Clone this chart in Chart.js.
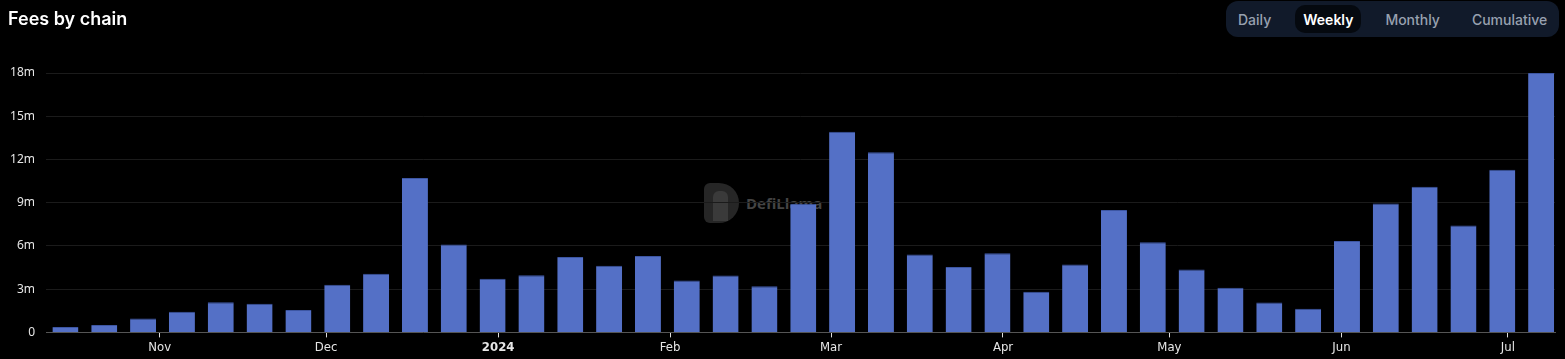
<!DOCTYPE html>
<html>
<head>
<meta charset="utf-8">
<script src="https://cdn.jsdelivr.net/npm/chart.js@4.4.1/dist/chart.umd.min.js"></script>
<style>
  body { margin: 0; background: #000; width: 1565px; height: 359px; overflow: hidden; position: relative; font-family: Inter, "Noto Sans", sans-serif; }
  #chart { position: absolute; left: 0; top: 0; z-index: 1; }
  .title { position: absolute; left: 8px; top: 8px; color: #fff; font-size: 18px; font-weight: 600; z-index: 2; }
  .toggle { position: absolute; left: 1226px; top: 1px; height: 36px; box-sizing: border-box; padding: 4px; display: flex; gap: 16px; background: #111a2a; border-radius: 12px; z-index: 2; }
  .toggle span { display: flex; align-items: center; height: 28px; padding: 0 8px; font-size: 14px; font-weight: 500; color: #98a1b0; border-radius: 10px; }
  .toggle span.on { background: #05090f; color: #fff; font-weight: 600; }
  .mark { position: absolute; left: 704px; top: 183px; z-index: 0; display: flex; align-items: center; gap: 7px; }
  .logo { width: 35px; height: 40px; background: #262626; border-radius: 6px 20px 20px 6px; position: relative; }
  .logo i { position: absolute; left: 9px; top: 8px; width: 15px; height: 30px; background: #3a3a3a; border-radius: 6px 6px 0 0; }
  .mark b { color: #444; font-size: 15px; font-weight: 700; font-family: "Open Sans", sans-serif; }
</style>
</head>
<body>
<div class="title">Fees by chain</div>
<div class="toggle"><span>Daily</span><span class="on">Weekly</span><span>Monthly</span><span>Cumulative</span></div>
<div class="mark"><div class="logo"><i></i></div><b>DefiLlama</b></div>
<canvas id="chart" width="1565" height="359"></canvas>
<script>
// week start dates (one bar per week)
const weeks = [
  '2023-10-15','2023-10-22','2023-10-29','2023-11-05','2023-11-12','2023-11-19','2023-11-26',
  '2023-12-03','2023-12-10','2023-12-17','2023-12-24','2023-12-31','2024-01-07','2024-01-14',
  '2024-01-21','2024-01-28','2024-02-04','2024-02-11','2024-02-18','2024-02-25','2024-03-03',
  '2024-03-10','2024-03-17','2024-03-24','2024-03-31','2024-04-07','2024-04-14','2024-04-21',
  '2024-04-28','2024-05-05','2024-05-12','2024-05-19','2024-05-26','2024-06-02','2024-06-09',
  '2024-06-16','2024-06-23','2024-06-30','2024-07-07'
];

// weekly fees, in millions of USD
const fees = [
  0.37, 0.51, 0.97, 1.43, 2.10, 1.99, 1.55, 3.30, 4.07, 10.72,
  6.10, 3.72, 3.97, 5.24, 4.62, 5.31, 3.60, 3.95, 3.21, 8.92,
  13.93, 12.50, 5.41, 4.53, 5.50, 2.82, 4.71, 8.50, 6.26, 4.37,
  3.10, 2.08, 1.64, 6.35, 8.94, 10.10, 7.42, 11.28, 18.0
];

// x axis ticks: first day of each month
const monthTicks = ['2023-11-01','2023-12-01','2024-01-01','2024-02-01','2024-03-01','2024-04-01','2024-05-01','2024-06-01','2024-07-01'];
const monthLabels = ['Nov','Dec','2024','Feb','Mar','Apr','May','Jun','Jul'];

const yTicks = [0, 3, 6, 9, 12, 15, 18];

// day number from a yyyy-mm-dd string
const dayNum = (s) => {
  const [y, m, d] = s.split('-').map(Number);
  return Date.UTC(y, m - 1, d) / 86400000;
};

const xs = weeks.map(dayNum);
const tickDays = monthTicks.map(dayNum);

new Chart(document.getElementById('chart'), {
  type: 'bar',
  data: {
    datasets: [{
      data: xs.map((x, i) => ({ x: x, y: fees[i] * 1e6 })),
      backgroundColor: '#5470c6',
      borderColor: '#3d56a3',
      borderWidth: { top: 1, left: 0, right: 0, bottom: 0 },
      barPercentage: 0.67,
      categoryPercentage: 1
    }]
  },
  options: {
    responsive: false,
    animation: false,
    layout: { padding: { top: 73, right: 10, left: 0, bottom: 2 } },
    plugins: { legend: { display: false }, tooltip: { enabled: false } },
    scales: {
      x: {
        type: 'linear',
        offset: false,
        min: xs[0] - 3.5,
        max: xs[xs.length - 1] + 2.5,
        afterBuildTicks: (scale) => { scale.ticks = tickDays.map(v => ({ value: v })); },
        grid: { offset: false, drawOnChartArea: false, drawTicks: true, tickLength: 5, tickColor: '#ddd' },
        border: { color: '#555' },
        ticks: {
          autoSkip: false,
          maxRotation: 0,
          padding: 2,
          color: '#e6e6e6',
          font: (ctx) => ({
            family: '"Liberation Sans Narrow", "DejaVu Sans Condensed", sans-serif',
            size: 13,
            weight: ctx.tick && ctx.tick.value === tickDays[2] ? 'bold' : 'normal'
          }),
          callback: (v) => monthLabels[tickDays.indexOf(v)]
        }
      },
      y: {
        min: 0,
        max: 18e6,
        afterBuildTicks: (scale) => { scale.ticks = yTicks.map(v => ({ value: v * 1e6 })); },
        afterFit: (scale) => { scale.width = 46; },
        grid: { color: '#1b1b1b', drawTicks: false },
        border: { display: false },
        ticks: {
          padding: 11,
          color: '#e6e6e6',
          font: { family: '"Noto Sans", sans-serif', size: 12 },
          callback: (v) => v === 0 ? '0' : (v / 1e6) + 'm'
        }
      }
    }
  }
});
</script>
</body>
</html>
